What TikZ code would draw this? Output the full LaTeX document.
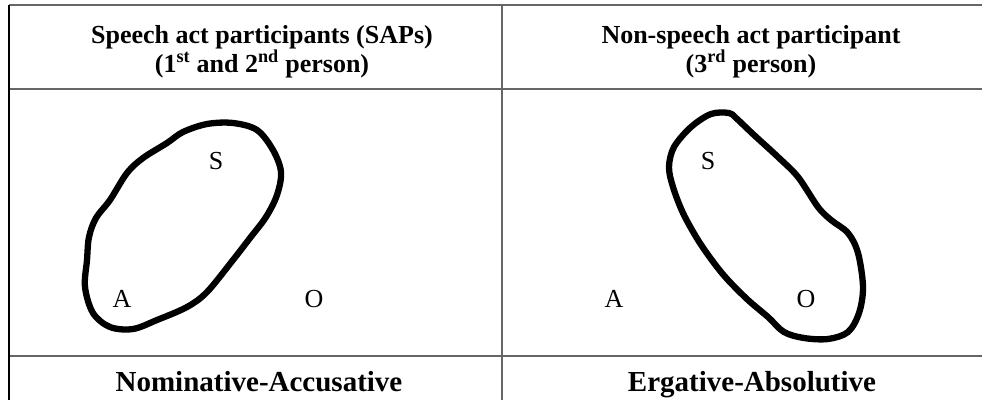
\documentclass[tikz,border=0pt]{standalone}
\usepackage{fontspec}
\setmainfont{Liberation Serif}
\begin{document}
\begin{tikzpicture}[x=1pt,y=-1pt,
  grid/.style={draw=black!60,line width=1.3pt},
  head/.style={font=\fontsize{26}{29}\selectfont\bfseries,anchor=base,align=center},
  foot/.style={font=\fontsize{29}{29}\selectfont\bfseries,anchor=base},
  role/.style={font=\fontsize{26}{29}\selectfont,anchor=base},
  blob/.style={line width=6.3pt,line join=round}]
\useasboundingbox (0,0) rectangle (982,400);
% table lines
\coordinate (tl) at (9,5);
\coordinate (tr) at (982,5);
\coordinate (ml) at (9,89);
\coordinate (mr) at (982,89);
\coordinate (bl) at (9,356);
\coordinate (br) at (982,356);
\coordinate (vt) at (502,5);
\coordinate (vb) at (502,400);
\coordinate (lb) at (9,400);
\draw[grid] (tl) -- (tr);
\draw[grid] (ml) -- (mr);
\draw[grid] (bl) -- (br);
\draw[grid] (vt) -- (vb);
\draw[line width=1.3pt,black] (tl) -- (lb);
% headers
\node[head] (h1a) at (262,43) {Speech act participants (SAPs)};
\node[head] (h1b) at (262,72) {(1\textsuperscript{st} and 2\textsuperscript{nd} person)};
\node[head] (h2a) at (751,43) {Non-speech act participant};
\node[head] (h2b) at (751,72) {(3\textsuperscript{rd} person)};
% footers
\node[foot] (f1) at (259,391) {Nominative-Accusative};
\node[foot] (f2) at (752,391) {Ergative-Absolutive};
% left panel
\node[role] (S1) at (216,169) {S};
\node[role] (A1) at (122,307) {A};
\node[role] (O1) at (314,307) {O};
\draw[blob] plot[smooth cycle,tension=0.55] coordinates {
 (233,123) (257,130) (273,150) (281,172) (277,195) (266,217) (250,238)
 (233,260) (207,292) (187,307) (157,320) (133,329) (110,327) (93,313)
 (85,287) (87,260) (89,237) (96,218) (110,200) (127,173) (143,158)
 (167,143) (183,132) (207,124)};
% right panel
\node[role] (S2) at (708,169) {S};
\node[role] (A2) at (614,307) {A};
\node[role] (O2) at (806,307) {O};
\draw[blob] plot[smooth cycle,tension=0.55] coordinates {
 (729,113) (711,114) (691,127) (674,147) (669,167) (673,187) (683,213)
 (698,240) (714,263) (728,280) (748,300) (768,317) (784,332) (804,338)
 (828,339) (848,332) (859,313) (863,287) (858,253) (848,233) (831,220)
 (818,207) (798,177) (778,157) (754,135) (736,118)};
\end{tikzpicture}
\end{document}
